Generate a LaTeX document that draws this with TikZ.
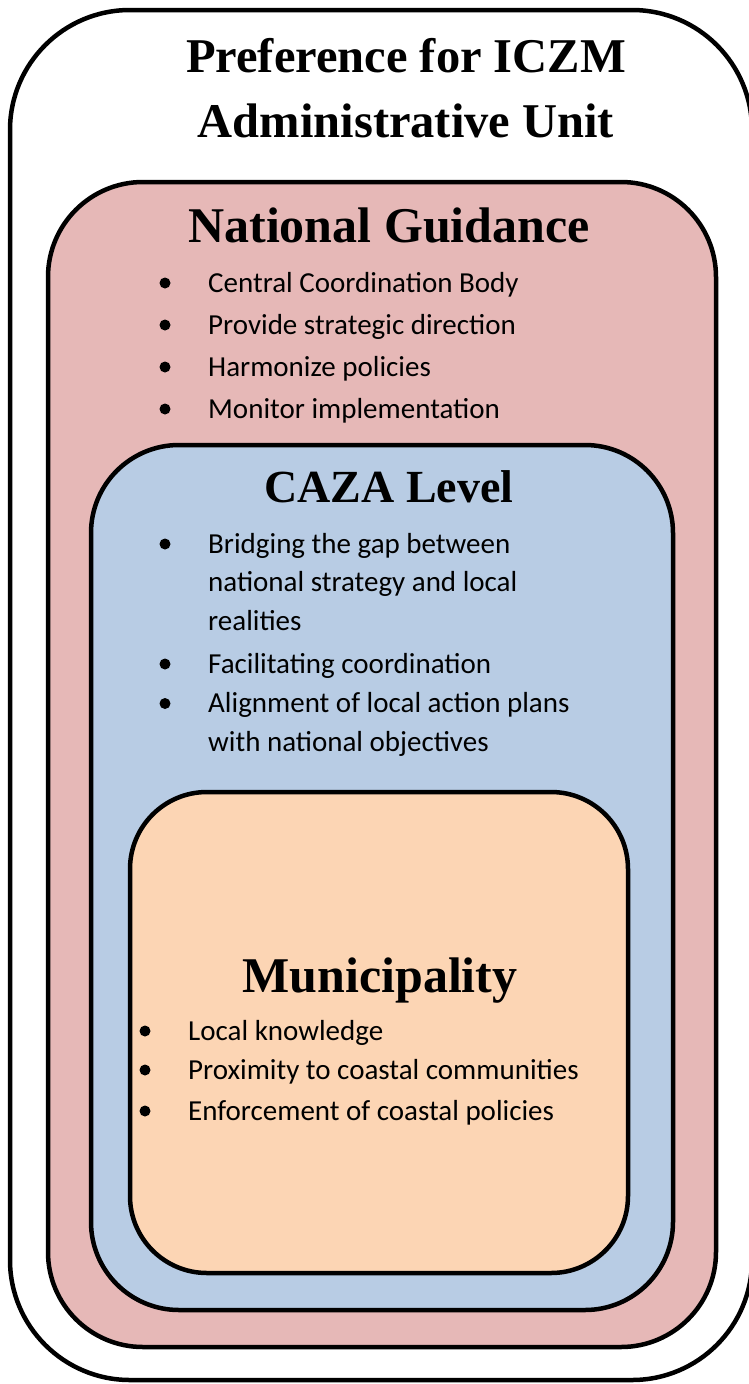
\documentclass[tikz,border=0pt]{standalone}
\usepackage{fontspec}
\setmainfont{Carlito}
\newfontfamily\headserif{Liberation Serif}
\definecolor{nationalpink}{HTML}{E6B8B7}
\definecolor{cazablue}{HTML}{B8CCE4}
\definecolor{municipalorange}{HTML}{FCD5B4}
\begin{document}
\begin{tikzpicture}[
    x=1pt, y=-1pt,
    panel/.style={draw, line width=4.5pt, rounded corners=#1},
    heading/.style={anchor=base, align=center, font=\headserif\bfseries\fontsize{#1}{65}\selectfont},
    heading/.default=50,
    item/.style={anchor=base west, align=left, inner sep=0pt, font=\fontsize{29}{38.5}\selectfont},
    bullet/.style={circle, fill, inner sep=0pt, minimum size=11pt},
    ]
\useasboundingbox (0,0) rectangle (748,1384);
% nested panels
\draw[panel=120pt, fill=white] (10,10) rectangle (752,1380);
\draw[panel=95pt, fill=nationalpink] (48,182) rectangle (716,1347);
\draw[panel=88pt, fill=cazablue] (91,445) rectangle (673,1310);
\draw[panel=77pt, fill=municipalorange] (130,792) rectangle (628,1273);
% titles (base = last line)
\node[heading=48.5] (title) at (406,137) {Preference for ICZM\\Administrative Unit};
\node[heading] (national) at (389,242) {National Guidance};
\node[heading=46] (caza) at (389,502) {CAZA Level};
\node[heading] (municipality) at (380,992) {Municipality};
% national guidance
\node[item] (ng1) at (208,292) {Central Coordination Body};
\node[item] (ng2) at (208,334) {Provide strategic direction};
\node[item] (ng3) at (208,376) {Harmonize policies};
\node[item] (ng4) at (208,418) {Monitor implementation};
% caza level
\node[item] (cz1) at (208,630) {Bridging the gap between\\national strategy and local\\realities};
\node[item] (cz2) at (208,673) {Facilitating coordination};
\node[item] (cz3) at (208,751) {Alignment of local action plans\\with national objectives};
% municipality
\node[item] (mu1) at (188,1040) {Local knowledge};
\node[item] (mu2) at (188,1079) {Proximity to coastal communities};
\node[item] (mu3) at (188,1120) {Enforcement of coastal policies};
% bullets
\node[bullet] (ng1b) at ([xshift=-43pt,yshift=9pt]ng1.base west) {};
\node[bullet] (ng2b) at ([xshift=-43pt,yshift=9pt]ng2.base west) {};
\node[bullet] (ng3b) at ([xshift=-43pt,yshift=9pt]ng3.base west) {};
\node[bullet] (ng4b) at ([xshift=-43pt,yshift=9pt]ng4.base west) {};
\node[bullet] (cz1b) at ([xshift=-43pt,yshift=86pt]cz1.base west) {};
\node[bullet] (cz2b) at ([xshift=-43pt,yshift=9pt]cz2.base west) {};
\node[bullet] (cz3b) at ([xshift=-43pt,yshift=47.5pt]cz3.base west) {};
\node[bullet] (mu1b) at ([xshift=-43pt,yshift=9pt]mu1.base west) {};
\node[bullet] (mu2b) at ([xshift=-43pt,yshift=9pt]mu2.base west) {};
\node[bullet] (mu3b) at ([xshift=-43pt,yshift=9pt]mu3.base west) {};
\end{tikzpicture}
\end{document}
